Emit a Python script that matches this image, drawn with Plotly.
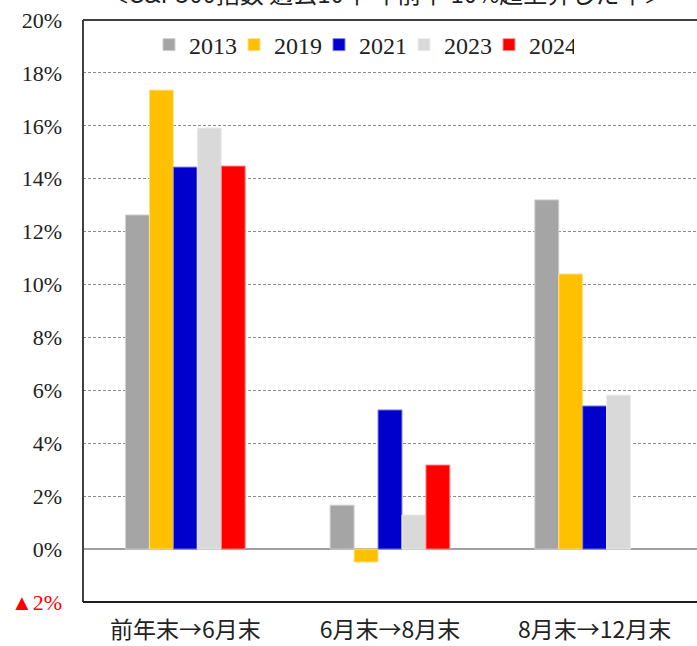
import plotly.graph_objects as go

categories = ["前年末→6月末", "6月末→8月末", "8月末→12月末"]
years = ["2013", "2019", "2021", "2023", "2024"]
colors = ["#A5A5A5", "#FFC000", "#0000CC", "#D9D9D9", "#FF0000"]
edge_colors = ["#D0D0D0", "#FFE08A", "#8080E6", "#ECECEC", "#FF9090"]
v2013 = [12.63, 1.66, 13.2]
v2019 = [17.35, -0.49, 10.40]
v2021 = [14.44, 5.26, 5.41]
v2023 = [15.92, 1.29, 5.82]
v2024 = [14.48, 3.18, None]
series = [v2013, v2019, v2021, v2023, v2024]

tick_vals = [-2, 0, 2, 4, 6, 8, 10, 12, 14, 16, 18, 20]
tick_text = ["<span style='color:#FF0000'>▲2%</span>", "0%", "2%", "4%", "6%", "8%",
             "10%", "12%", "14%", "16%", "18%", "20%"]
title_text = "＜S&P500指数 過去10年 年前半 10%超上昇した年＞"

SERIF = "'Liberation Serif', 'Noto Sans CJK JP', serif"
CJK = "'Noto Sans CJK JP', 'Liberation Serif', serif"

fig = go.Figure()
for name, vals, c, ec in zip(years, series, colors, edge_colors):
    fig.add_trace(go.Bar(
        x=categories, y=vals, name=name,
        marker=dict(color=c, line=dict(color=ec, width=1)),
    ))

fig.update_layout(
    width=697, height=646,
    margin=dict(l=83, r=0, t=20, b=44, autoexpand=False),
    barmode="group", bargap=0.415, bargroupgap=0,
    plot_bgcolor="white", paper_bgcolor="white",
    font=dict(family=SERIF, size=22, color="#222222"),
    showlegend=True,
    legend=dict(orientation="h", x=0.1075, xanchor="left", y=0.957, yanchor="middle",
                font=dict(size=24, family=SERIF), itemwidth=30,
                entrywidth=40, entrywidthmode="pixels",
                bgcolor="rgba(0,0,0,0)", traceorder="normal"),
    xaxis=dict(showline=False, showgrid=False, ticks="", automargin=False,
               tickfont=dict(size=23, family=CJK),
               ticklabelstandoff=12),
    yaxis=dict(range=[-2, 20], tickvals=tick_vals, ticktext=tick_text, automargin=False,
               showgrid=True, gridcolor="#8C8C8C", griddash="3px,2px", gridwidth=1,
               zeroline=True, zerolinecolor="#A0A0A0", zerolinewidth=2,
               showline=False, ticks="", tickfont=dict(size=22, family=SERIF),
               ticklabelstandoff=20),
)

# frame: left axis, bottom axis, top border
fig.add_shape(type="line", xref="paper", yref="paper", x0=0, x1=0, y0=0, y1=1,
              line=dict(color="#404040", width=2))
fig.add_shape(type="line", xref="paper", yref="paper", x0=0, x1=1, y0=0, y1=0,
              line=dict(color="#202020", width=2))
fig.add_shape(type="line", xref="paper", yref="paper", x0=0, x1=1, y0=1, y1=1,
              line=dict(color="#404040", width=2))

fig.add_annotation(text=title_text, xref="paper", yref="paper", x=0.495, y=1,
                   xanchor="center", yanchor="bottom", yshift=8, showarrow=False,
                   font=dict(size=24, family=CJK, color="#222222"))

fig.write_html("out.html", config={"displayModeBar": False},
               post_script="document.body.style.margin='0';document.body.style.overflow='hidden';")
